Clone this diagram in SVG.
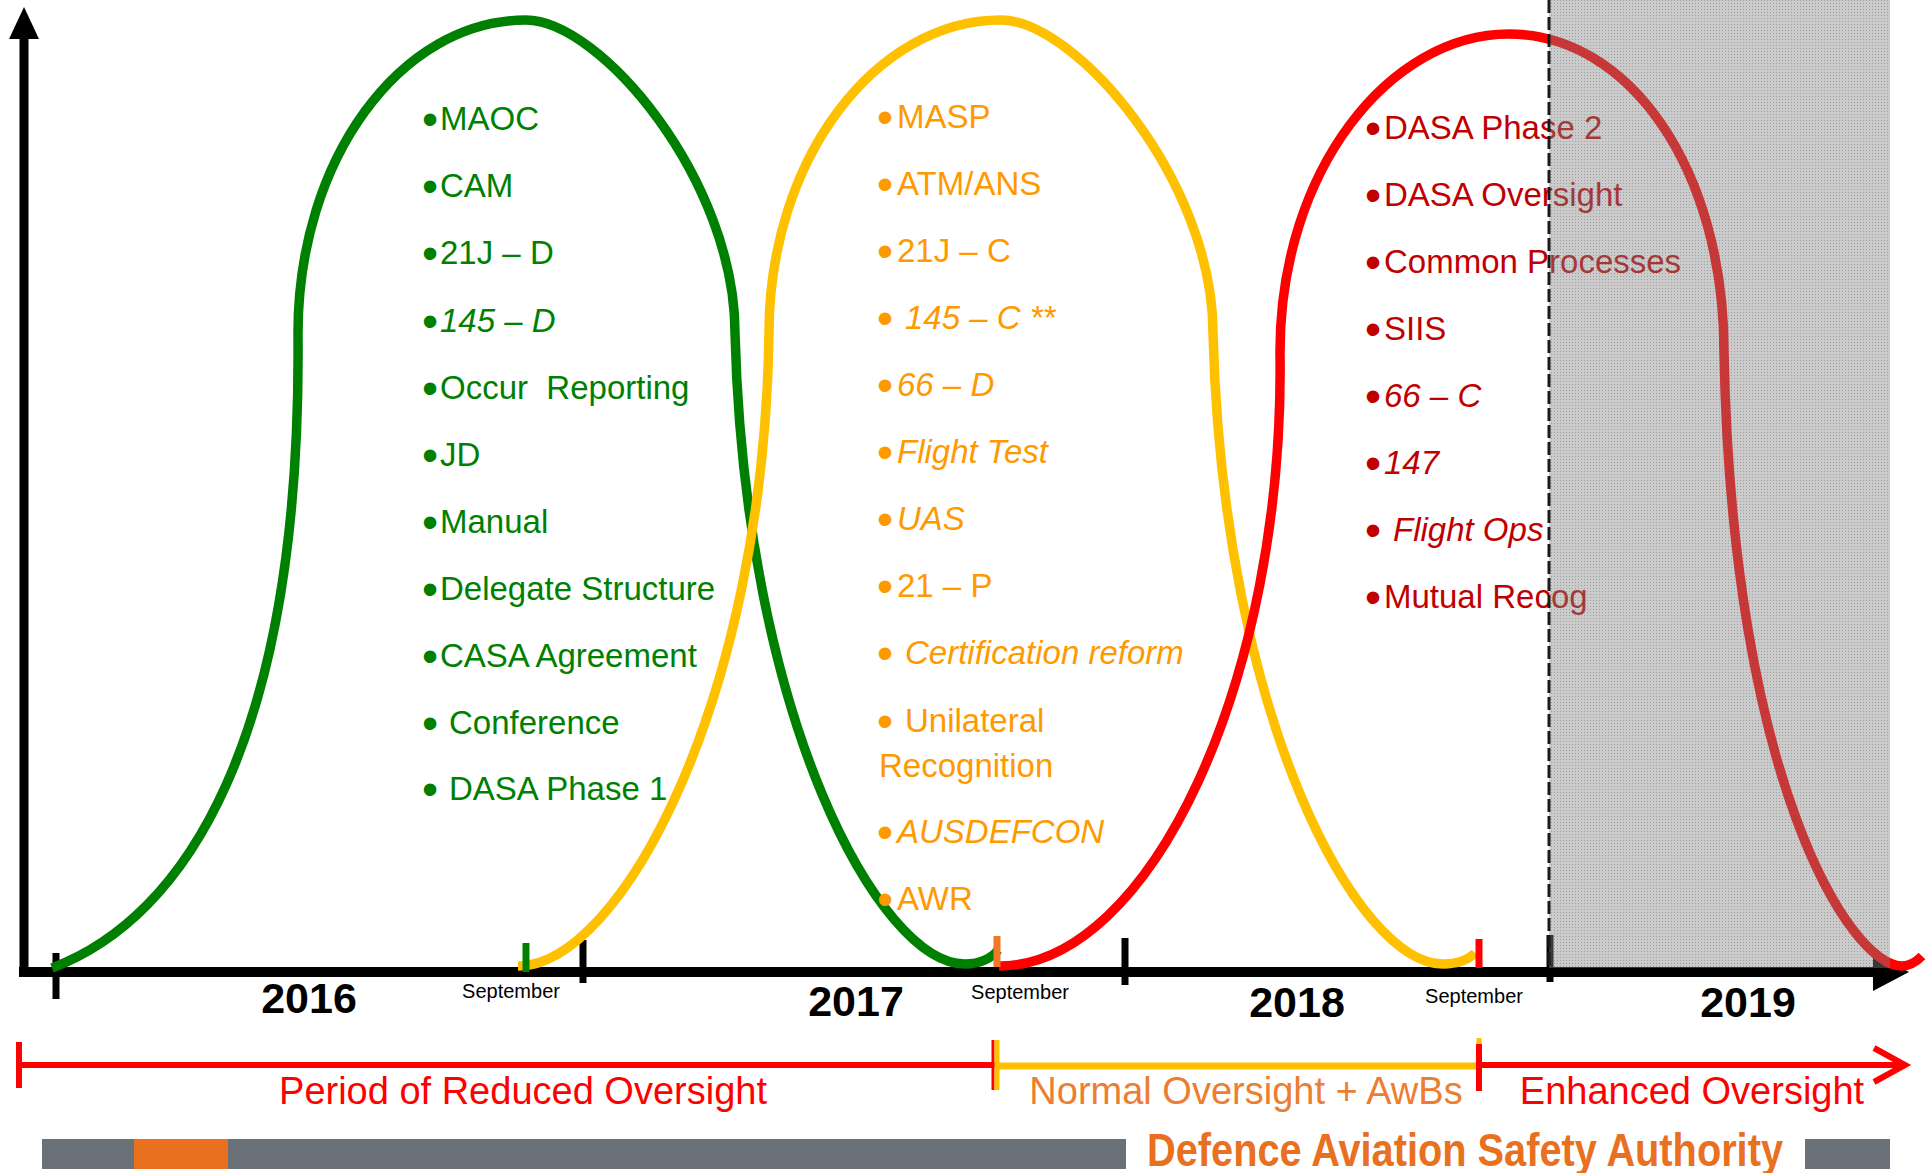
<svg xmlns="http://www.w3.org/2000/svg" width="1927" height="1173" viewBox="0 0 1927 1173">
<defs>
<style>
.curve{fill:none;stroke-width:9.5;stroke-linecap:butt}
.g{stroke:#008000}
.y{stroke:#FFC000}
.r{stroke:#FF0000}
.tick{stroke:#000;stroke-width:7}
text{font-family:"Liberation Sans",Arial,sans-serif}
.li{font-size:33px}
.b{font-size:46px}
.gt{fill:#008000}
.ot{fill:#FF9900}
.rt{fill:#C00000}
.it{font-style:italic}
.year{font-size:43px;font-weight:bold;fill:#000;text-anchor:middle}
.sep{font-size:20px;fill:#000;text-anchor:middle}
.band{font-size:38px;text-anchor:middle}
</style>
<pattern id="dots" width="3" height="3" patternUnits="userSpaceOnUse">
<rect width="3" height="3" fill="#838383" fill-opacity="0.42"/>
<rect width="1" height="1" fill="#505050" fill-opacity="0.35"/>
</pattern>
</defs>
<rect width="1927" height="1173" fill="#fff"/>

<g id="axes">
<line x1="24" y1="36" x2="24" y2="977" stroke="#000" stroke-width="9"/>
<polygon points="24,7 9,39 39,39" fill="#000"/>
<line x1="19" y1="972" x2="1878" y2="972" stroke="#000" stroke-width="10"/>
<polygon points="1873,953 1909,972 1873,991" fill="#000"/>
<line class="tick" x1="56" y1="953" x2="56" y2="999"/>
<line class="tick" x1="583" y1="940" x2="583" y2="983"/>
<line class="tick" x1="1125" y1="938" x2="1125" y2="985"/>
<line class="tick" x1="1550" y1="935" x2="1550" y2="982"/>
</g>

<g id="curves">
<path id="green-curve" class="curve g" d="M52,968 C185,918 302,740 298,333 C298,160 400,20 526,20 C600,20 735,180 735,333 C745,720 880,964 965,964 C980,964 992,958 998,950"/>
<path id="yellow-curve" class="curve y" d="M518,966 C620,966 764,700 769,333 C769,160 875,20 1001,20 C1075,20 1213,180 1213,333 C1223,720 1358,964 1443,964 C1458,964 1468,960 1475,953"/>
<path id="red-curve" class="curve r" d="M999,966 C1150,966 1285,680 1280,352 C1280,170 1390,34 1509,34 C1630,34 1724,170 1724,352 C1732,780 1850,966 1902,966 C1910,966 1916,962 1922,956"/>
<line x1="526" y1="943" x2="526" y2="972" stroke="#008000" stroke-width="7"/>
<line x1="997" y1="936" x2="997" y2="967" stroke="#F07828" stroke-width="7"/>
<line x1="1479" y1="939" x2="1479" y2="968" stroke="#FF0000" stroke-width="7"/>
</g>

<g id="labels-axis">
<text class="year" x="309" y="1013">2016</text>
<text class="year" x="856" y="1016">2017</text>
<text class="year" x="1297" y="1017">2018</text>
<text class="year" x="1748" y="1017">2019</text>
<text class="sep" x="511" y="998">September</text>
<text class="sep" x="1020" y="999">September</text>
<text class="sep" x="1474" y="1003">September</text>
</g>

<g id="list-green" class="li gt">
<text x="422" y="130"><tspan class="b" dy="5">•</tspan><tspan x="440" dy="-5">MAOC</tspan></text>
<text x="422" y="197"><tspan class="b" dy="5">•</tspan><tspan x="440" dy="-5">CAM</tspan></text>
<text x="422" y="264"><tspan class="b" dy="5">•</tspan><tspan x="440" dy="-5">21J – D</tspan></text>
<text x="422" y="332"><tspan class="b" dy="5">•</tspan><tspan x="440" dy="-5" class="it">145 – D</tspan></text>
<text x="422" y="399" xml:space="preserve"><tspan class="b" dy="5">•</tspan><tspan x="440" dy="-5">Occur  Reporting</tspan></text>
<text x="422" y="466"><tspan class="b" dy="5">•</tspan><tspan x="440" dy="-5">JD</tspan></text>
<text x="422" y="533"><tspan class="b" dy="5">•</tspan><tspan x="440" dy="-5">Manual</tspan></text>
<text x="422" y="600"><tspan class="b" dy="5">•</tspan><tspan x="440" dy="-5">Delegate Structure</tspan></text>
<text x="422" y="667"><tspan class="b" dy="5">•</tspan><tspan x="440" dy="-5">CASA Agreement</tspan></text>
<text x="422" y="734"><tspan class="b" dy="5">•</tspan><tspan x="449" dy="-5">Conference</tspan></text>
<text x="422" y="800"><tspan class="b" dy="5">•</tspan><tspan x="449" dy="-5">DASA Phase 1</tspan></text>
</g>

<g id="list-orange" class="li ot">
<text x="877" y="128"><tspan class="b" dy="5">•</tspan><tspan x="897" dy="-5">MASP</tspan></text>
<text x="877" y="195"><tspan class="b" dy="5">•</tspan><tspan x="897" dy="-5">ATM/ANS</tspan></text>
<text x="877" y="262"><tspan class="b" dy="5">•</tspan><tspan x="897" dy="-5">21J – C</tspan></text>
<text x="877" y="329"><tspan class="b" dy="5">•</tspan><tspan x="905" dy="-5" class="it">145 – C **</tspan></text>
<text x="877" y="396"><tspan class="b" dy="5">•</tspan><tspan x="897" dy="-5" class="it">66 – D</tspan></text>
<text x="877" y="463"><tspan class="b" dy="5">•</tspan><tspan x="897" dy="-5" class="it">Flight Test</tspan></text>
<text x="877" y="530"><tspan class="b" dy="5">•</tspan><tspan x="897" dy="-5" class="it">UAS</tspan></text>
<text x="877" y="597"><tspan class="b" dy="5">•</tspan><tspan x="897" dy="-5">21 – P</tspan></text>
<text x="877" y="664"><tspan class="b" dy="5">•</tspan><tspan x="905" dy="-5" class="it">Certification reform</tspan></text>
<text x="877" y="732"><tspan class="b" dy="5">•</tspan><tspan x="905" dy="-5">Unilateral</tspan><tspan x="879" y="777">Recognition</tspan></text>
<text x="877" y="843"><tspan class="b" dy="5">•</tspan><tspan x="897" dy="-5" class="it">AUSDEFCON</tspan></text>
<text x="877" y="910"><tspan class="b" dy="5">•</tspan><tspan x="897" dy="-5">AWR</tspan></text>
</g>

<g id="list-red" class="li rt">
<text x="1365" y="139"><tspan class="b" dy="5">•</tspan><tspan x="1384" dy="-5">DASA Phase 2</tspan></text>
<text x="1365" y="206"><tspan class="b" dy="5">•</tspan><tspan x="1384" dy="-5">DASA Oversight</tspan></text>
<text x="1365" y="273"><tspan class="b" dy="5">•</tspan><tspan x="1384" dy="-5">Common Processes</tspan></text>
<text x="1365" y="340"><tspan class="b" dy="5">•</tspan><tspan x="1384" dy="-5">SIIS</tspan></text>
<text x="1365" y="407"><tspan class="b" dy="5">•</tspan><tspan x="1384" dy="-5" class="it">66 – C</tspan></text>
<text x="1365" y="474"><tspan class="b" dy="5">•</tspan><tspan x="1384" dy="-5" class="it">147</tspan></text>
<text x="1365" y="541"><tspan class="b" dy="5">•</tspan><tspan x="1393" dy="-5" class="it">Flight Ops</tspan></text>
<text x="1365" y="608"><tspan class="b" dy="5">•</tspan><tspan x="1384" dy="-5">Mutual Recog</tspan></text>
</g>

<g id="future-shade">
<rect x="1549" y="0" width="341" height="968" fill="url(#dots)"/>
<line x1="1549" y1="0" x2="1549" y2="968" stroke="#1a1a1a" stroke-width="3" stroke-dasharray="13 4"/>
</g>

<g id="oversight-timeline">
<line x1="19" y1="1065" x2="995" y2="1065" stroke="#FF0000" stroke-width="6"/>
<line x1="19" y1="1042" x2="19" y2="1088" stroke="#FF0000" stroke-width="6"/>
<line x1="997" y1="1066" x2="1479" y2="1066" stroke="#FFC000" stroke-width="7"/>
<line x1="993" y1="1040" x2="993" y2="1090" stroke="#FF0000" stroke-width="3"/>
<line x1="997" y1="1040" x2="997" y2="1090" stroke="#FFC000" stroke-width="5"/>
<line x1="1479" y1="1038" x2="1479" y2="1046" stroke="#FFC000" stroke-width="5"/>
<line x1="1479" y1="1044" x2="1479" y2="1091" stroke="#FF0000" stroke-width="6"/>
<line x1="1479" y1="1065" x2="1903" y2="1065" stroke="#FF0000" stroke-width="6"/>
<polyline points="1874,1048 1905,1065 1874,1082" fill="none" stroke="#FF0000" stroke-width="6"/>
<text class="band" x="523" y="1104" fill="#FF0000">Period of Reduced Oversight</text>
<text class="band" x="1246" y="1104" fill="#ED7D31">Normal Oversight + AwBs</text>
<text class="band" x="1692" y="1104" fill="#FF0000">Enhanced Oversight</text>
</g>

<g id="footer">
<rect x="42" y="1139" width="1084" height="30" fill="#6B7178"/>
<rect x="134" y="1139" width="94" height="30" fill="#E8701F"/>
<rect x="1805" y="1139" width="85" height="30" fill="#6B7178"/>
<text x="1147" y="1166" font-size="47" font-weight="bold" fill="#E8701E" textLength="636" lengthAdjust="spacingAndGlyphs">Defence Aviation Safety Authority</text>
</g>
</svg>
